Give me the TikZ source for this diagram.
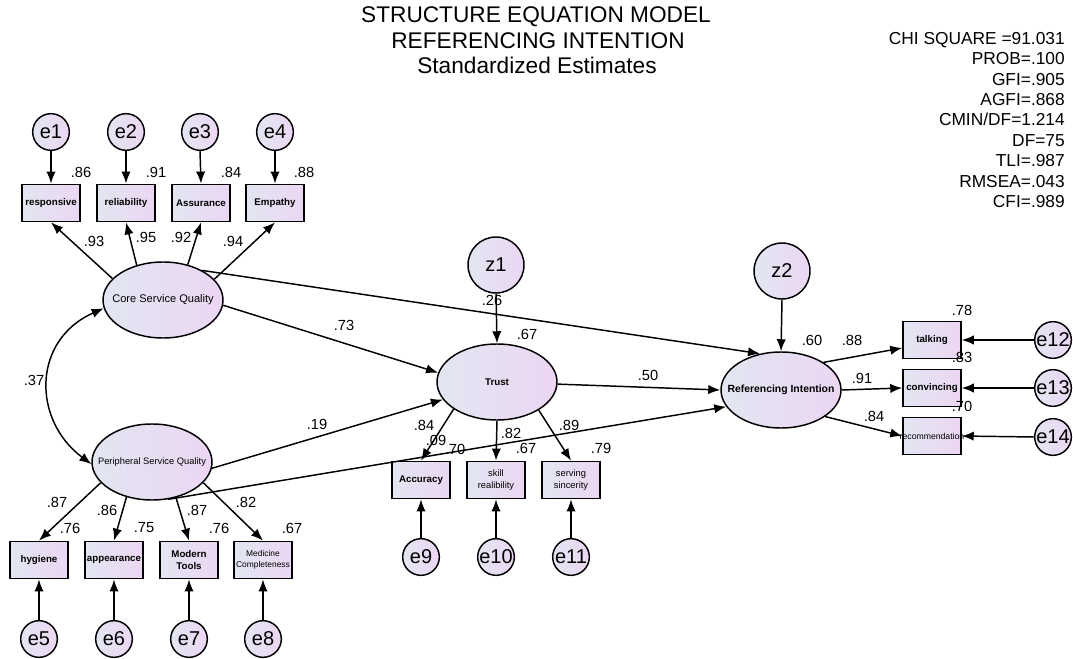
\documentclass[tikz,border=0pt]{standalone}
\usepackage{fontspec}
\setmainfont{Liberation Sans}
\usetikzlibrary{shapes,arrows.meta}
\definecolor{amosL}{RGB}{226,230,242}
\definecolor{amosR}{RGB}{236,214,242}
\tikzset{
  amosfill/.style={draw, line width=1.1pt, left color=amosL, right color=amosR},
  errvar/.style={amosfill, circle, minimum size=27.5pt, inner sep=0pt, font=\fontsize{15}{15}\selectfont},
  distvar/.style={amosfill, circle, minimum size=42pt, inner sep=0pt, font=\fontsize{15}{15}\selectfont},
  latvar/.style={amosfill, ellipse, minimum width=90pt, minimum height=57pt, inner sep=0pt},
  obsvar/.style={amosfill, rectangle, minimum width=43.5pt, minimum height=28pt, inner sep=0pt, align=center, font=\fontsize{7.3}{9}\selectfont\bfseries},
  regarr/.style={-{Latex[length=9pt,width=7pt]}, line width=1.1pt},
  covarr/.style={{Latex[length=9pt,width=7pt]}-{Latex[length=9pt,width=7pt]}, line width=1.1pt},
  estl/.style={inner sep=0pt, font=\fontsize{11}{11}\selectfont},
  titletxt/.style={inner sep=0pt, font=\fontsize{17}{17}\selectfont}
}
\newcommand{\obsv}[5][]{\node[obsvar,#1] (#2) at (#3,#4) {#5};}
\newcommand{\errv}[4]{\node[errvar] (#1) at (#2,#3) {#4};}
\newcommand{\estv}[4]{\node[estl] (#1) at (#2,#3) {#4};}
\newcommand{\wide}[1]{\makebox[0pt]{#1}}
\begin{document}
\begin{tikzpicture}[x=0.75pt,y=-0.75pt]
    \useasboundingbox (0,0) rectangle (1073,659);
    % title
    \node[titletxt] (title1) at (536,16.5) {STRUCTURE EQUATION MODEL};
    \node[titletxt] (title2) at (538,41) {REFERENCING INTENTION};
    \node[titletxt] (title3) at (537,65) {Standardized Estimates};
    % fit indices
    \node[inner sep=0pt, anchor=north east, align=right, font=\fontsize{13}{15.3}\selectfont] (fitidx) at (1065,32)
      {CHI SQUARE =91.031\\PROB=.100\\GFI=.905\\AGFI=.868\\CMIN/DF=1.214\\DF=75\\TLI=.987\\RMSEA=.043\\CFI=.989};

    % latent variables
    \node[latvar, font=\fontsize{8.3}{8.3}\selectfont] (csq) at (163,300) {\wide{Core Service Quality}};
    \node[latvar, font=\fontsize{7}{7}\selectfont] (psq) at (152,462) {\wide{Peripheral Service Quality}};
    \node[latvar, font=\fontsize{7.3}{7.3}\selectfont\bfseries] (trust) at (497,382) {\wide{Trust}};
    \node[latvar, font=\fontsize{7.8}{7.8}\selectfont\bfseries] (ri) at (781,390) {\wide{Referencing Intention}};
    \node[distvar] (z1) at (496,265) {z1};
    \node[distvar] (z2) at (782,271) {z2};

    % row1: core service quality
    \obsv{resp}{51}{203}{\wide{responsive}}
    \obsv{relia}{126}{203}{reliability}
    \obsv{assur}{201}{203}{Assurance}
    \obsv{empat}{275}{203}{Empathy}
    \errv{e1}{51}{132}{e1}
    \errv{e2}{126}{132}{e2}
    \errv{e3}{200}{132}{e3}
    \errv{e4}{275}{132}{e4}
    % row2: peripheral service quality
    \obsv{hyg}{39}{560}{hygiene}
    \obsv{appear}{114}{560}{\wide{appearance}}
    \obsv{modern}{189}{560}{Modern\\Tools}
    \obsv[font=\fontsize{6.3}{8}\selectfont]{medic}{263}{560}{Medicine\\\wide{Completeness}}
    \errv{e5}{39}{639}{e5}
    \errv{e6}{114}{639}{e6}
    \errv{e7}{189}{639}{e7}
    \errv{e8}{263}{639}{e8}
    % row3: trust
    \obsv{accur}{421}{480}{Accuracy}
    \obsv[font=\fontsize{7}{9}\selectfont]{skill}{496}{480}{skill\\realibility}
    \obsv[font=\fontsize{7}{9}\selectfont]{serving}{571}{480}{serving\\sincerity}
    \errv{e9}{421}{557}{e9}
    \errv{e10}{496}{557}{e10}
    \errv{e11}{571}{557}{e11}
    % row4: referencing intention
    \obsv{talking}{932}{340}{talking}
    \obsv{convinc}{932}{388}{\wide{convincing}}
    \obsv[font=\fontsize{6.5}{8}\selectfont]{recom}{932}{436}{\wide{recommendation}}
    \errv{e12}{1053}{340}{e12}
    \errv{e13}{1053}{388}{e13}
    \errv{e14}{1053}{437}{e14}

    % error arrows
    \foreach \e/\m in {e1/resp,e2/relia,e3/assur,e4/empat}
      \draw[regarr] (\e.south) -- (\m.north);
    \foreach \e/\m in {e5/hyg,e6/appear,e7/modern,e8/medic,e9/accur,e10/skill,e11/serving}
      \draw[regarr] (\e.north) -- (\m.south);
    \foreach \e/\m in {e12/talking,e13/convinc,e14/recom}
      \draw[regarr] (\e.west) -- (\m.east);
    \draw[regarr] (z1.south) -- (trust.north);
    \draw[regarr] (z2.south) -- (ri.north);

    % loadings
    \draw[regarr] (csq.157) -- (resp.south);
    \draw[regarr] (csq.127) -- (relia.south);
    \draw[regarr] (csq.55) -- (assur.south);
    \draw[regarr] (csq.22) -- (empat.south);
    \draw[regarr] (psq.202) -- (hyg.north);
    \draw[regarr] (psq.234) -- (appear.north);
    \draw[regarr] (psq.304) -- (modern.north);
    \draw[regarr] (psq.338) -- (medic.north);
    \draw[regarr] (trust.212) -- (accur.north);
    \draw[regarr] (trust.south) -- (skill.north);
    \draw[regarr] (trust.326) -- (serving.north);
    \draw[regarr] (ri.33) -- (talking.195);
    \draw[regarr] (ri.east) -- (convinc.west);
    \draw[regarr] (ri.329) -- (recom.west);

    % structural paths
    \draw[covarr] (csq.188) .. controls (32,340) and (32,420) .. (psq.182);
    \draw[regarr] (csq.355) -- (trust.171);
    \draw[regarr] (csq.37) -- (ri.120);
    \draw[regarr] (psq.354) -- (trust.198);
    \draw[regarr] (psq.293) -- (ri.197);
    \draw[regarr] (trust.358) -- (ri.west);

    % estimates row1
    \estv{s1}{81}{172}{.86}
    \estv{s2}{156}{172}{.91}
    \estv{s3}{231}{172}{.84}
    \estv{s4}{304}{172}{.88}
    \estv{l1}{94}{241}{.93}
    \estv{l2}{146}{237}{.95}
    \estv{l3}{181}{237}{.92}
    \estv{l4}{233}{241}{.94}
    % estimates row2
    \estv{l5}{57}{502}{.87}
    \estv{l6}{107}{510}{.86}
    \estv{l7}{197}{510}{.87}
    \estv{l8}{246}{502}{.82}
    \estv{s5}{70}{528}{.76}
    \estv{s6}{144}{528}{.75}
    \estv{s7}{219}{528}{.76}
    \estv{s8}{292}{528}{.67}
    % estimates trust
    \estv{l9}{424}{425}{.84}
    \estv{l10}{511}{433}{.82}
    \estv{l11}{569}{425}{.89}
    \estv{s9}{455}{449}{.70}
    \estv{s10}{526}{448}{.67}
    \estv{s11}{601}{448}{.79}
    \estv{p9}{436}{440}{.09}
    % estimates referencing intention
    \estv{l12}{852}{340}{.88}
    \estv{l13}{862}{378}{.91}
    \estv{l14}{874}{416}{.84}
    \estv{s12}{962}{310}{.78}
    \estv{s13}{962}{357}{.83}
    \estv{s14}{962}{406}{.70}
    % structural estimates
    \estv{c37}{34}{380}{.37}
    \estv{p73}{344}{325}{.73}
    \estv{p19}{317}{424}{.19}
    \estv{p50}{648}{375}{.50}
    \estv{r26}{492}{300}{.26}
    \estv{r67}{527}{334}{.67}
    \estv{r60}{812}{340}{.60}
\end{tikzpicture}
\end{document}
